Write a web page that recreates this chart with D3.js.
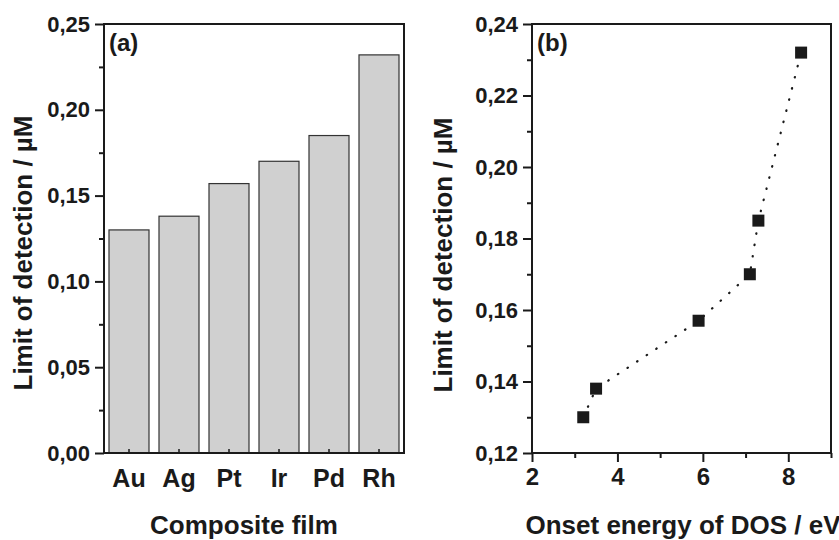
<!DOCTYPE html>
<html>
<head>
<meta charset="utf-8">
<script src="https://cdn.jsdelivr.net/npm/d3@7"></script>
<style>
  body { margin: 0; background: #fff; }
  svg { display: block; font-family: "Liberation Sans", Arial, sans-serif; font-weight: bold; }
  .domain { display: none; }
</style>
</head>
<body>
<svg width="839" height="540"></svg>
<script>
// panel (a) data
const films = ["Au", "Ag", "Pt", "Ir", "Pd", "Rh"];
const lod = [0.130, 0.138, 0.157, 0.170, 0.185, 0.232];
const yTicksA = [0, 0.05, 0.10, 0.15, 0.20, 0.25];
const yMinorA = [0.025, 0.075, 0.125, 0.175, 0.225];

// panel (b) data
const onset = [3.2, 3.5, 5.9, 7.1, 7.3, 8.3];
const yTicksB = [0.12, 0.14, 0.16, 0.18, 0.20, 0.22, 0.24];
const yMinorB = [0.13, 0.15, 0.17, 0.19, 0.21, 0.23];
const xTicksB = [2, 4, 6, 8];
const xMinorB = [3, 5, 7, 9];

const svg = d3.select("svg");
const ink = "#1a1a1a";
const fmt = d => d3.format(".2f")(d).replace(".", ",");

function styleAxis(g, size) {
    g.selectAll(".tick line").attr("stroke", ink).attr("stroke-width", 2);
    g.selectAll(".tick text").attr("fill", ink).style("font-size", size + "px");
}

// ---------- panel (a) ----------
const A = {left: 104, right: 404, top: 24, bottom: 453};

const xa = d3.scaleBand().domain(films).range([A.left, A.right])
    .paddingInner(0.2).paddingOuter(0.1);
const ya = d3.scaleLinear().domain([0, 0.25]).range([A.bottom, A.top]);

svg.append("g")
    .selectAll("rect")
    .data(films)
    .join("rect")
    .attr("x", d => xa(d))
    .attr("y", (d, i) => ya(lod[i]))
    .attr("width", xa.bandwidth())
    .attr("height", (d, i) => ya(0) - ya(lod[i]))
    .attr("fill", "#d0d0d0")
    .attr("stroke", "#333")
    .attr("stroke-width", 1.2);

svg.append("g")
    .attr("transform", `translate(${A.left},0)`)
    .call(d3.axisLeft(ya).tickValues(yTicksA).tickFormat(fmt).tickSize(9).tickPadding(5))
    .call(g => styleAxis(g, 22));

svg.append("g")
    .attr("transform", `translate(${A.left},0)`)
    .call(d3.axisLeft(ya).tickValues(yMinorA).tickFormat("").tickSize(5))
    .call(g => styleAxis(g, 22));

// category ticks point inward, labels below
svg.append("g")
    .attr("transform", `translate(0,${A.bottom})`)
    .call(d3.axisBottom(xa).tickSize(-4).tickPadding(16))
    .call(g => styleAxis(g, 25))
    .call(g => g.selectAll(".tick line").attr("stroke-width", 1.5));

svg.append("rect")
    .attr("x", A.left).attr("y", A.top)
    .attr("width", A.right - A.left).attr("height", A.bottom - A.top)
    .attr("fill", "none").attr("stroke", ink).attr("stroke-width", 2);

svg.append("text")
    .attr("x", A.left + 5).attr("y", A.top + 27)
    .attr("fill", ink).style("font-size", "24px")
    .text("(a)");

svg.append("text")
    .attr("x", 244).attr("y", 534)
    .attr("text-anchor", "middle").attr("fill", ink).style("font-size", "26px")
    .text("Composite film");

svg.append("text")
    .attr("transform", `translate(32,253) rotate(-90)`)
    .attr("text-anchor", "middle").attr("fill", ink).style("font-size", "26px")
    .text("Limit of detection / µM");

// ---------- panel (b) ----------
const B = {left: 532, right: 831, top: 24, bottom: 453};

const xb = d3.scaleLinear().domain([2, 9]).range([B.left, B.right]);
const yb = d3.scaleLinear().domain([0.12, 0.24]).range([B.bottom, B.top]);

svg.append("g")
    .attr("transform", `translate(${B.left},0)`)
    .call(d3.axisLeft(yb).tickValues(yTicksB).tickFormat(fmt).tickSize(9).tickPadding(5))
    .call(g => styleAxis(g, 22));

svg.append("g")
    .attr("transform", `translate(${B.left},0)`)
    .call(d3.axisLeft(yb).tickValues(yMinorB).tickFormat("").tickSize(5))
    .call(g => styleAxis(g, 22));

svg.append("g")
    .attr("transform", `translate(0,${B.bottom})`)
    .call(d3.axisBottom(xb).tickValues(xTicksB).tickFormat(d3.format("d")).tickSize(9).tickPadding(6))
    .call(g => styleAxis(g, 24));

svg.append("g")
    .attr("transform", `translate(0,${B.bottom})`)
    .call(d3.axisBottom(xb).tickValues(xMinorB).tickFormat("").tickSize(5))
    .call(g => styleAxis(g, 24));

const line = d3.line().x((d, i) => xb(onset[i])).y(d => yb(d));

svg.append("path")
    .datum(lod)
    .attr("d", line)
    .attr("fill", "none")
    .attr("stroke", ink)
    .attr("stroke-width", 2.2)
    .attr("stroke-linecap", "round")
    .attr("stroke-dasharray", "0.5,11");

svg.append("g")
    .selectAll("rect")
    .data(lod)
    .join("rect")
    .attr("x", (d, i) => xb(onset[i]) - 6)
    .attr("y", d => yb(d) - 6)
    .attr("width", 12).attr("height", 12)
    .attr("fill", ink);

svg.append("rect")
    .attr("x", B.left).attr("y", B.top)
    .attr("width", B.right - B.left).attr("height", B.bottom - B.top)
    .attr("fill", "none").attr("stroke", ink).attr("stroke-width", 2);

svg.append("text")
    .attr("x", B.left + 5).attr("y", B.top + 27)
    .attr("fill", ink).style("font-size", "24px")
    .text("(b)");

svg.append("text")
    .attr("x", 683).attr("y", 534)
    .attr("text-anchor", "middle").attr("fill", ink).style("font-size", "26px")
    .text("Onset energy of DOS / eV");

svg.append("text")
    .attr("transform", `translate(452,255) rotate(-90)`)
    .attr("text-anchor", "middle").attr("fill", ink).style("font-size", "26px")
    .text("Limit of detection / µM");
</script>
</body>
</html>
